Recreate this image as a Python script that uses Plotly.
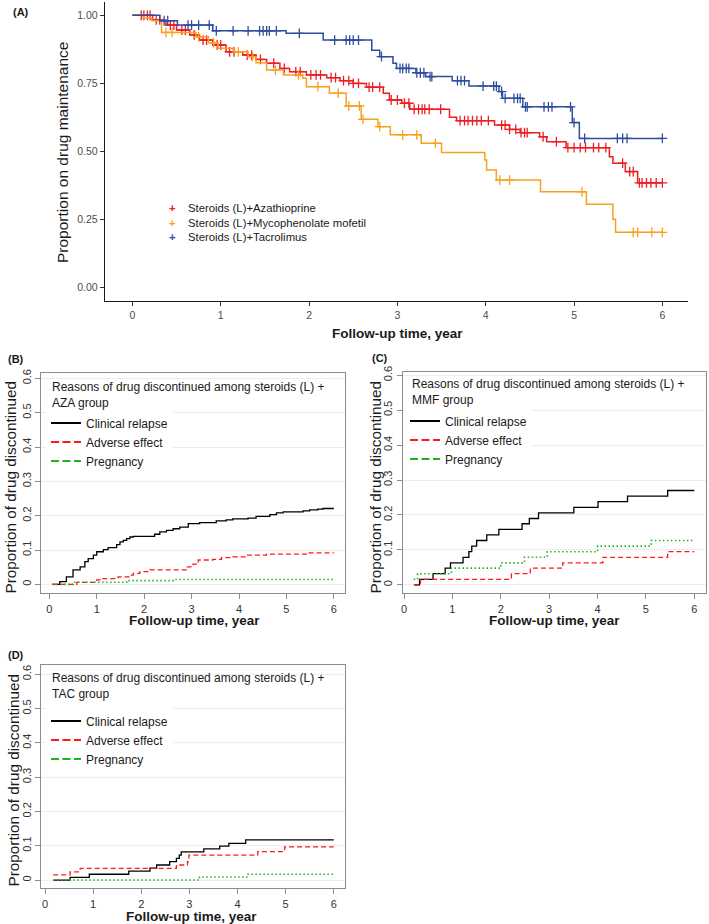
import numpy as np
import plotly.graph_objects as go

# ---------------- data ----------------
# Panel A: Kaplan-Meier drug maintenance
groups = ["Steroids (L)+Azathioprine", "Steroids (L)+Mycophenolate mofetil", "Steroids (L)+Tacrolimus"]

aza_t = [0, 0.23, 0.38, 0.50, 0.65, 0.76, 0.91, 1.06, 1.25, 1.40, 1.52, 1.67, 1.78, 1.97, 2.20, 2.35,
         2.50, 2.65, 2.84, 2.91, 3.05, 3.14, 3.59, 3.67, 4.10, 4.27, 4.39, 4.61, 4.69, 4.91, 5.40, 5.44,
         5.58, 5.72]
aza_s = [1.0, 0.983, 0.964, 0.946, 0.928, 0.909, 0.891, 0.866, 0.854, 0.838, 0.824, 0.805, 0.793, 0.781,
         0.771, 0.760, 0.750, 0.736, 0.714, 0.689, 0.677, 0.655, 0.626, 0.613, 0.597, 0.581, 0.569, 0.554,
         0.536, 0.514, 0.481, 0.457, 0.426, 0.385]
aza_cens = [0.10, 0.13, 0.17, 0.20, 0.27, 0.31, 0.43, 0.47, 0.56, 0.60, 0.70, 0.80, 0.84, 0.96, 1.00, 1.10,
            1.15, 1.30, 1.35, 1.45, 1.60, 1.72, 1.85, 1.90, 2.02, 2.08, 2.13, 2.25, 2.30, 2.39, 2.45, 2.50,
            2.56, 2.68, 2.72, 2.80, 2.93, 3.00, 3.08, 3.13, 3.19, 3.24, 3.28, 3.31, 3.36, 3.49, 3.71, 3.76,
            3.80, 3.85, 3.90, 3.95, 4.03, 4.18, 4.22, 4.27, 4.34, 4.40, 4.44, 4.47, 4.65, 4.80, 4.93, 5.00,
            5.07, 5.13, 5.22, 5.28, 5.36, 5.55, 5.63, 5.67, 5.74, 5.77, 5.82, 5.87, 5.93, 6.00]

mmf_t = [0, 0.12, 0.22, 0.33, 0.72, 0.86, 0.97, 1.14, 1.31, 1.40, 1.52, 1.71, 1.93, 1.97, 2.23, 2.42,
         2.59, 2.78, 2.92, 3.27, 3.50, 3.99, 4.01, 4.12, 4.62, 5.14, 5.44, 5.47]
mmf_s = [1.0, 0.99, 0.98, 0.937, 0.921, 0.899, 0.879, 0.866, 0.848, 0.826, 0.799, 0.781, 0.769, 0.738,
         0.714, 0.667, 0.618, 0.591, 0.561, 0.530, 0.496, 0.469, 0.432, 0.395, 0.352, 0.306, 0.251, 0.203]
mmf_cens = [0.38, 0.45, 0.75, 0.92, 1.20, 1.36, 1.62, 1.88, 2.10, 2.33, 2.45, 2.57, 2.61, 2.80, 3.06,
            3.22, 3.43, 4.16, 4.27, 5.09, 5.67, 5.72, 5.88, 6.00]

tac_t = [0, 0.31, 0.51, 0.91, 1.74, 2.16, 2.71, 2.80, 2.95, 2.99, 3.21, 3.32, 3.62, 3.81, 4.15, 4.19,
         4.42, 4.98, 5.06]
tac_s = [1.0, 0.980, 0.964, 0.943, 0.934, 0.909, 0.872, 0.848, 0.824, 0.805, 0.789, 0.775, 0.760, 0.740,
         0.720, 0.695, 0.664, 0.606, 0.548]
tac_cens = [0.36, 0.40, 0.63, 0.67, 0.75, 0.87, 0.95, 1.14, 1.31, 1.44, 1.48, 1.52, 1.55, 1.63, 1.89,
            2.29, 2.42, 2.46, 2.50, 2.56, 2.82, 3.03, 3.06, 3.10, 3.13, 3.22, 3.26, 3.30, 3.37, 3.39,
            3.68, 3.72, 3.76, 3.97, 4.09, 4.12, 4.18, 4.22, 4.32, 4.36, 4.39, 4.45, 4.47, 4.66, 4.71,
            4.75, 4.96, 5.00, 5.12, 5.49, 5.55, 5.60, 6.00]

a_xticks = [0, 1, 2, 3, 4, 5, 6]
a_yticks = [0, 0.25, 0.5, 0.75, 1.0]
a_yticklabels = ["0.00", "0.25", "0.50", "0.75", "1.00"]

# Panels B-D: cumulative incidence of reasons for discontinuation
reasons = ["Clinical relapse", "Adverse effect", "Pregnancy"]

b_rel_t = [0.06, 0.15, 0.22, 0.36, 0.50, 0.65, 0.75, 0.82, 0.93, 1.00, 1.14, 1.24, 1.42, 1.49, 1.56, 1.63,
           1.70, 1.77, 2.22, 2.33, 2.47, 2.61, 2.75, 2.93, 3.17, 3.52, 3.73, 3.87, 4.19, 4.36, 4.65, 4.79,
           4.93, 5.35, 5.49, 5.66, 5.77, 6.00]
b_rel_v = [0, 0.0, 0.008, 0.022, 0.042, 0.051, 0.066, 0.075, 0.085, 0.095, 0.101, 0.107, 0.116, 0.124,
           0.128, 0.133, 0.138, 0.140, 0.146, 0.153, 0.157, 0.162, 0.167, 0.177, 0.180, 0.185, 0.188,
           0.191, 0.193, 0.198, 0.203, 0.208, 0.211, 0.214, 0.217, 0.219, 0.221, 0.221]
b_adv_t = [0.06, 0.58, 1.00, 1.07, 1.45, 1.70, 1.77, 1.91, 2.12, 2.89, 3.03, 3.14, 3.45, 3.63, 3.87, 4.15,
           4.58, 5.42, 6.00]
b_adv_v = [0, 0.006, 0.013, 0.017, 0.022, 0.027, 0.032, 0.037, 0.042, 0.051, 0.059, 0.071, 0.073, 0.078,
           0.080, 0.085, 0.088, 0.092, 0.092]
b_prg_t = [0.06, 0.50, 1.63, 2.61, 6.00]
b_prg_v = [0, 0.006, 0.011, 0.014, 0.014]

c_rel_t = [0.21, 0.32, 0.60, 0.85, 0.96, 1.22, 1.34, 1.40, 1.50, 1.71, 1.96, 2.44, 2.59, 2.78, 3.51, 4.01,
           4.62, 5.45, 6.00]
c_rel_v = [0, 0.016, 0.032, 0.048, 0.063, 0.079, 0.095, 0.111, 0.127, 0.143, 0.159, 0.175, 0.190, 0.206,
           0.222, 0.238, 0.254, 0.270, 0.270]
c_adv_t = [0.20, 0.34, 2.22, 2.61, 3.28, 4.11, 5.45, 6.00]
c_adv_v = [0, 0.016, 0.032, 0.048, 0.063, 0.079, 0.095, 0.095]
c_prg_t = [0.20, 0.28, 0.98, 2.00, 2.49, 2.96, 4.00, 5.11, 6.00]
c_prg_v = [0.016, 0.032, 0.048, 0.063, 0.079, 0.095, 0.111, 0.127, 0.127]

d_rel_t = [0.17, 0.52, 0.92, 1.74, 2.18, 2.32, 2.59, 2.73, 2.79, 2.83, 3.30, 3.63, 3.82, 4.17, 6.00]
d_rel_v = [0, 0.008, 0.017, 0.026, 0.035, 0.044, 0.054, 0.063, 0.073, 0.082, 0.091, 0.099, 0.107, 0.117,
           0.117]
d_adv_t = [0.17, 0.52, 0.73, 2.73, 2.96, 2.99, 4.42, 4.98, 6.00]
d_adv_v = [0.015, 0.024, 0.034, 0.044, 0.054, 0.073, 0.083, 0.097, 0.097]
d_prg_t = [0.17, 3.21, 4.22, 6.00]
d_prg_v = [0, 0.009, 0.017, 0.017]

bcd_xticks = [0, 1, 2, 3, 4, 5, 6]
bcd_yticks = [0, 0.1, 0.2, 0.3, 0.4, 0.5, 0.6]
panel_groups = ["AZA", "MMF", "TAC"]

# ---------------- styling ----------------
W, H = 709, 924
FONT = "Liberation Sans, Arial, Helvetica, sans-serif"
km_colors = ["#EE1D23", "#F7A11F", "#2E4D9F"]
reason_colors = ["#000000", "#FF1A1A", "#22B022"]
reason_dash = ["solid", "5px,3px", "1.5px,2.5px"]
legend_dash = ["solid", "8px,3.5px", "8px,3.5px"]


def px(x):
    return x / W


def py(y):
    return 1 - y / H


def step_at(times, vals, t):
    i = int(np.searchsorted(np.asarray(times), t, side="right")) - 1
    return vals[max(i, 0)]


fig = go.Figure()

# Panel A curves
km_data = [(aza_t, aza_s, aza_cens), (mmf_t, mmf_s, mmf_cens), (tac_t, tac_s, tac_cens)]
for (t, s, c), col, name in zip(km_data, km_colors, groups):
    tend = max(c)
    fig.add_trace(go.Scatter(x=list(t) + [tend], y=list(s) + [s[-1]], mode="lines",
                             line=dict(color=col, width=1.5, shape="hv"),
                             xaxis="x", yaxis="y", showlegend=False, hoverinfo="skip"))
    fig.add_trace(go.Scatter(x=c, y=[step_at(t, s, ci) for ci in c], mode="markers",
                             marker=dict(symbol="cross-thin", size=7, line=dict(color=col, width=1.3)),
                             xaxis="x", yaxis="y", showlegend=False, hoverinfo="skip", name=name))

# Panels B-D
panel_data = [
    [(b_rel_t, b_rel_v), (b_adv_t, b_adv_v), (b_prg_t, b_prg_v)],
    [(c_rel_t, c_rel_v), (c_adv_t, c_adv_v), (c_prg_t, c_prg_v)],
    [(d_rel_t, d_rel_v), (d_adv_t, d_adv_v), (d_prg_t, d_prg_v)],
]
widths = [1.3, 1.3, 1.6]
for p, series in enumerate(panel_data):
    xa, ya = f"x{p + 2}", f"y{p + 2}"
    for k, (t, v) in enumerate(series):
        fig.add_trace(go.Scatter(x=t, y=v, mode="lines",
                                 line=dict(color=reason_colors[k], width=widths[k], shape="hv",
                                           dash=reason_dash[k]),
                                 xaxis=xa, yaxis=ya, showlegend=False, hoverinfo="skip"))
    for k, name in enumerate(reasons):
        fig.add_trace(go.Scatter(x=[None], y=[None], mode="lines", name=name,
                                 line=dict(color=reason_colors[k], width=2.2, dash=legend_dash[k]),
                                 xaxis=xa, yaxis=ya, legend=f"legend{p + 2}", showlegend=True))

# ---------------- layout ----------------
a_axis_common = dict(showline=True, linecolor="#1a1a1a", linewidth=1.4, ticks="outside", ticklen=4,
                     tickwidth=1.1, tickcolor="#333333", showgrid=False, zeroline=False,
                     tickfont=dict(family=FONT, size=10.5, color="#4d4d4d"))
bcd_x_common = dict(showline=True, mirror=True, linecolor="#8c8c8c", linewidth=1, ticks="outside",
                    ticklen=5, tickwidth=1, tickcolor="#8c8c8c", showgrid=False, zeroline=False,
                    tickvals=bcd_xticks, tickfont=dict(family=FONT, size=11, color="#333333"))
bcd_y_common = dict(showline=True, mirror=True, linecolor="#8c8c8c", linewidth=1, ticks="outside",
                    ticklen=5, tickwidth=1, tickcolor="#8c8c8c", showgrid=True, gridcolor="#ededed",
                    gridwidth=1, zeroline=False, tickvals=bcd_yticks, tickangle=-90,
                    tickfont=dict(family=FONT, size=11, color="#333333"))

layout = dict(
    width=W, height=H, margin=dict(l=0, r=0, t=0, b=0),
    paper_bgcolor="white", plot_bgcolor="white", template="none",
    font=dict(family=FONT, color="#1a1a1a"),
    xaxis=dict(domain=[px(105), px(688)], anchor="y", range=[-0.31, 6.29], tickvals=a_xticks,
               **a_axis_common),
    yaxis=dict(domain=[py(300.7), py(1.7)], anchor="x", range=[-0.048, 1.05], tickvals=a_yticks,
               ticktext=a_yticklabels, **a_axis_common),
    xaxis2=dict(domain=[px(41), px(345)], anchor="y2", range=[-0.175, 6.235], **bcd_x_common),
    yaxis2=dict(domain=[py(593.3), py(372.5)], anchor="x2", range=[-0.026, 0.617], **bcd_y_common),
    xaxis3=dict(domain=[px(402.5), px(705.5)], anchor="y3", range=[-0.032, 6.232], **bcd_x_common),
    yaxis3=dict(domain=[py(593.3), py(372.0)], anchor="x3", range=[-0.024, 0.609], **bcd_y_common),
    xaxis4=dict(domain=[px(41), px(345)], anchor="y4", range=[-0.084, 6.234], **bcd_x_common),
    yaxis4=dict(domain=[py(888.3), py(665)], anchor="x4", range=[-0.024, 0.627], **bcd_y_common),
)

# legends for B, C, D
leg_pos = [(46, 408.5), (405, 406.5), (46, 706.5)]
for p, (lx, ly) in enumerate(leg_pos):
    layout[f"legend{p + 2}"] = dict(x=px(lx), y=py(ly), xanchor="left", yanchor="top",
                                    bgcolor="white", borderwidth=0, itemwidth=30, tracegroupgap=0,
                                    font=dict(family=FONT, size=12, color="#1a1a1a"))
fig.update_layout(**layout)

ann = []


def add_text(text, x, y, size, bold=False, angle=0, xanchor="center", yanchor="middle", color="#1a1a1a"):
    ann.append(dict(text=f"<b>{text}</b>" if bold else text, x=px(x), y=py(y), xref="paper", yref="paper",
                    showarrow=False, xanchor=xanchor, yanchor=yanchor, textangle=angle,
                    font=dict(family=FONT, size=size, color=color), align="left"))


# panel labels
add_text("(A)", 11, 11.5, 11, bold=True, xanchor="left")
add_text("(B)", 6, 359, 11, bold=True, xanchor="left")
add_text("(C)", 370, 358, 11, bold=True, xanchor="left")
add_text("(D)", 6, 655, 11, bold=True, xanchor="left")

# axis titles
add_text("Proportion on drug maintenance", 62, 153, 15.5, angle=-90)
add_text("Follow-up time, year", 397, 333, 13.5, bold=True)
for (yx, yy), (xx, xy) in zip([(9.5, 487), (374.5, 487), (12.5, 780)], [(194.7, 620), (554, 620), (191.7, 916)]):
    add_text("Proportion of drug discontinued", yx, yy, 15.3, angle=-90)
    add_text("Follow-up time, year", xx, xy, 13.5, bold=True)

# legend titles for B-D
for g, (tx, ty) in zip(panel_groups, [(50, 395.3), (409.5, 392.2), (50, 685.8)]):
    add_text(f"Reasons of drug discontinued among steroids (L) +<br>{g} group", tx, ty, 12, xanchor="left")

# panel A legend (keys + labels) — same line spacing for both blocks
keys = "<br>".join(f'<span style="color:{c}"><b>+</b></span>' for c in km_colors)
add_text(keys, 172, 222.8, 11.3, xanchor="center")
add_text("<br>".join(groups), 186, 222.8, 11.3, xanchor="left", color="#1a1a1a")

fig.update_layout(annotations=ann)
fig.write_html("out.html", config={"displayModeBar": False},
               post_script="document.body.style.margin='0';document.body.style.padding='0';")
